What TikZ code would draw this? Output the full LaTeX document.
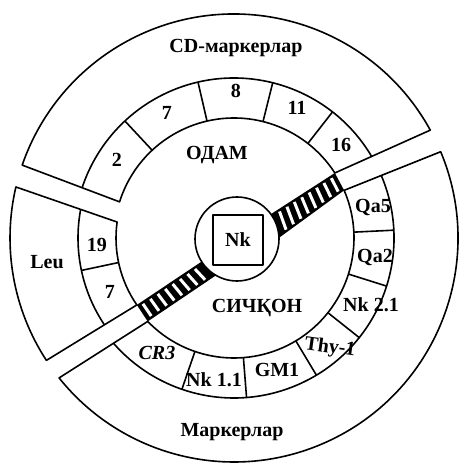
\documentclass[tikz,border=0pt]{standalone}
\usepackage{fontspec}
\setmainfont{Liberation Serif}
\usetikzlibrary{calc}

\begin{document}
\begin{tikzpicture}[x=1pt, y=1pt, line width=1.6pt, line join=round,
  lbl/.style={font=\fontsize{20}{23}\selectfont\bfseries, inner sep=0.5pt},
  stripe/.style={white, line width=3pt, shorten <=2.5pt, shorten >=2.5pt}]
  \useasboundingbox (-234,-228) rectangle (225,238);
  % ODAM
  \draw (28.79:224) arc[start angle=28.79, end angle=161.01, radius=224]
    -- (162.47:120) arc[start angle=162.47, end angle=32.82, radius=120] -- cycle;
  \draw (30.65:160) arc[start angle=30.65, end angle=161.68, radius=160];
  \foreach \a in {133,103,76,52} \draw (\a:120) -- (\a:160);
  % SICHQON
  \draw (22.66:224) arc[start angle=22.66, end angle=-141.34, radius=224]
    -- (-135.96:120) arc[start angle=-135.96, end angle=23.4, radius=120] -- cycle;
  \draw (23:160) arc[start angle=23, end angle=-138.86, radius=160];
  \foreach \a in {2.8,-17.5,-38.5,-59,-85.5,-109} \draw (\a:120) -- (\a:160);
  % Leu
  \draw (166.83:224) arc[start angle=166.83, end angle=213.12, radius=224]
    -- (214.56:118) arc[start angle=214.56, end angle=172.22, radius=118] -- cycle;
  \draw (169.44:156) arc[start angle=169.44, end angle=213.82, radius=156];
  \draw (192:118) -- (192:156);
  % bars
  \coordinate (au0) at (32.82:120);
  \coordinate (al0) at (23.4:120);
  \coordinate (au1) at (34,22);
  \coordinate (al1) at (42,-2);
  \coordinate (bu0) at (214.56:118);
  \coordinate (bl0) at (-135.96:120);
  \coordinate (bu1) at (-30,-22);
  \coordinate (bl1) at (-16,-36);
  \fill (au0) -- (au1) -- (al1) -- (al0) -- cycle;
  \fill (bu0) -- (bu1) -- (bl1) -- (bl0) -- cycle;
  \foreach \t in {0.07,0.18,0.29,0.40,0.51,0.62,0.73,0.84} {
    \draw[stripe] ($(au0)!\t!(au1)$) -- ($(al0)!\t!(al1)$);
    \draw[stripe] ($(bu0)!\t!(bu1)$) -- ($(bl0)!\t!(bl1)$);
  }
  \node[circle, draw, fill=white, minimum size=84pt] (cell) at (3,-1) {};
  \node[lbl, draw, minimum size=50pt] (nk) at (4,-2) {Nk};

  \node[lbl] (cd) at (2,190) {CD-маркерлар};
  \node[lbl] (odam) at (-17,83) {ОДАМ};
  \node[lbl] (c2) at (-117,78) {2};
  \node[lbl] (c7) at (-67,125) {7};
  \node[lbl] (c8) at (2,147) {8};
  \node[lbl] (c11) at (63,130) {11};
  \node[lbl] (c16) at (107,93) {16};

  \node[lbl] (leu) at (-187,-24) {Leu};
  \node[lbl] (c19) at (-137,-7) {19};
  \node[lbl] (c7b) at (-124,-54) {7};

  \node[lbl] (sichqon) at (23,-70) {СИЧҚОН};
  \node[lbl] (qa5) at (139,31) {Qa5};
  \node[lbl] (qa2) at (141,-19) {Qa2};
  \node[lbl] (nk21) at (137,-67) {Nk 2.1};
  \node[lbl, rotate=-8] (thy) at (96,-110) {Thy-1};
  \node[lbl] (gm1) at (43,-132) {GM1};
  \node[lbl] (nk11) at (-20,-142) {Nk 1.1};
  \node[lbl, font=\fontsize{20}{23}\selectfont\bfseries\itshape] (cr3) at (-77,-115) {CR3};
  \node[lbl] (mark) at (-2,-194) {Маркерлар};
\end{tikzpicture}
\end{document}
